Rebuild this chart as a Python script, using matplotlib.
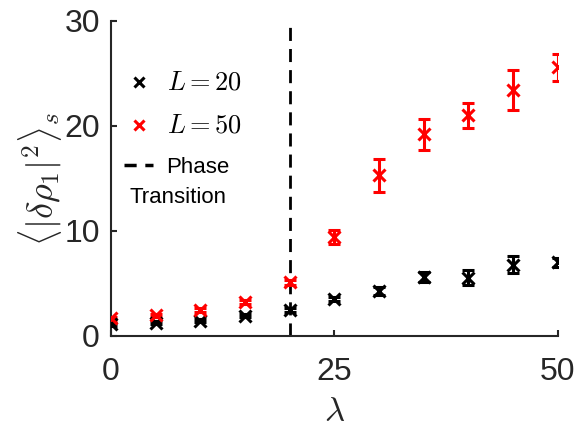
import matplotlib
matplotlib.use("Agg")
import matplotlib.pyplot as plt
from matplotlib.lines import Line2D
import numpy as np

plt.rcParams['font.family'] = ['Liberation Sans', 'DejaVu Sans']
plt.rcParams['mathtext.fontset'] = 'cm'

lam = [0, 5, 10, 15, 20, 25, 30, 35, 40, 45, 50]
L20_mean = [1.1, 1.26, 1.45, 1.92, 2.45, 3.5, 4.3, 5.6, 5.55, 6.8, 7.0]
L20_err = [0.15, 0.15, 0.15, 0.15, 0.2, 0.2, 0.4, 0.5, 0.7, 0.8, 0.4]
L50_mean = [1.68, 1.99, 2.47, 3.26, 5.1, 9.43, 15.3, 19.2, 21.0, 23.4, 25.6]
L50_err = [0.15, 0.15, 0.15, 0.2, 0.2, 0.65, 1.6, 1.5, 1.2, 1.9, 1.3]
transition = 20
labels = ['$L=20$', '$L=50$', 'Phase', 'Transition']
xticks = [0, 25, 50]
yticks = [0, 10, 20, 30]

fig = plt.figure(figsize=(5.79, 4.28), dpi=100)
ax = fig.add_axes([0.1917, 0.215, 0.963 - 0.1917, 0.951 - 0.215])

ax.plot([transition, transition], [0, 30], color='black', linestyle=(0, (4.7, 2.9)), linewidth=2.0, zorder=1)
ax.errorbar(lam, L20_mean, yerr=L20_err, fmt='x', color='black', markersize=8,
            markeredgewidth=2.2, elinewidth=2.2, capsize=4, capthick=2.2, zorder=3)
ax.errorbar(lam, L50_mean, yerr=L50_err, fmt='x', color='red', markersize=8,
            markeredgewidth=2.2, elinewidth=2.2, capsize=4, capthick=2.2, zorder=3)

ax.set_xlim(0, 50)
ax.set_ylim(0, 30)
ax.set_xticks(xticks)
ax.set_yticks(yticks)
ax.tick_params(direction='in', length=4, width=1.5, colors='#262626', labelsize=23)
ax.tick_params(axis='x', pad=15)
ax.tick_params(axis='y', pad=8)
for s in ['top', 'right']:
    ax.spines[s].set_visible(False)
for s in ['left', 'bottom']:
    ax.spines[s].set_linewidth(1.5)
    ax.spines[s].set_color('#262626')
ax.set_xlabel(r'$\lambda$', fontsize=25, color='#262626', labelpad=6)
ax.set_ylabel(r'$\langle|\delta\rho_1|^2\rangle_s$', fontsize=26, color='#262626', labelpad=0)

handles = [
    Line2D([], [], color='black', marker='x', linestyle='none', markersize=7, markeredgewidth=2.2),
    Line2D([], [], color='red', marker='x', linestyle='none', markersize=7, markeredgewidth=2.2),
    Line2D([], [], color='black', linestyle=(0, (3.5, 2.5)), linewidth=2.5),
]
leg = ax.legend(handles, labels[:3], loc='upper left', bbox_to_anchor=(0.01, 0.87),
                frameon=False, fontsize=16, handlelength=1.3, handletextpad=0.6,
                labelspacing=0.85, borderaxespad=0)
for t in leg.get_texts()[:2]:
    t.set_fontsize(19)
ax.text(0.042, 0.441, labels[3], transform=ax.transAxes, fontsize=16, va='center', ha='left')

fig.savefig('out.png', dpi=100)
